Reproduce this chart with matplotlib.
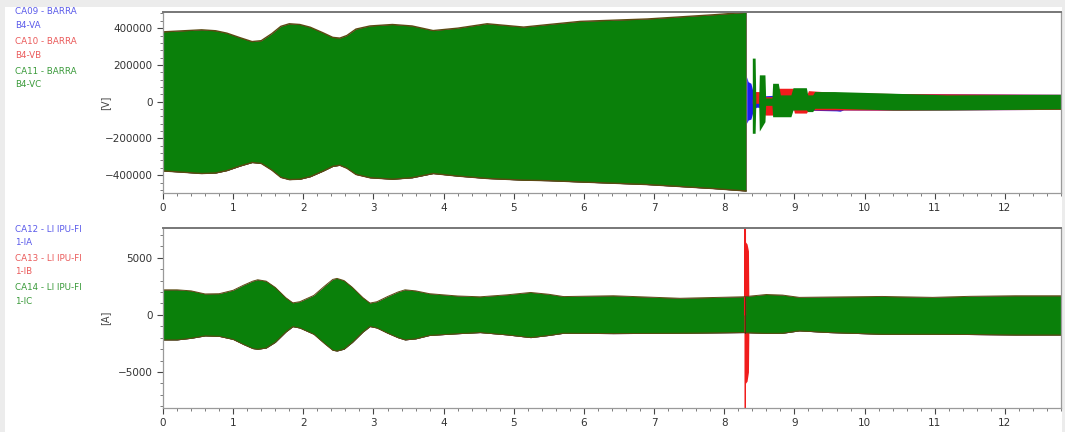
import numpy as np
import matplotlib
matplotlib.use("Agg")
import matplotlib.pyplot as plt
from matplotlib.ticker import AutoMinorLocator, MultipleLocator
from matplotlib.patches import Rectangle

# ---------------- data ----------------
# voltage envelope before the fault [s], [V]
v_t = [0, 0.25, 0.55, 0.75, 0.91, 1.1, 1.27, 1.4, 1.55, 1.68, 1.8, 1.95, 2.1,
       2.28, 2.42, 2.52, 2.62, 2.75, 2.95, 3.27, 3.55, 3.85, 4.2, 4.62, 5.14,
       5.5, 5.95, 6.9, 7.85, 8.31]
v_up = [380e3, 385e3, 391e3, 386e3, 373e3, 348e3, 327e3, 332e3, 370e3, 410e3,
        424e3, 420e3, 405e3, 375e3, 350e3, 346e3, 360e3, 395e3, 412e3, 420e3,
        412e3, 387e3, 400e3, 424e3, 406e3, 420e3, 437e3, 450e3, 473e3, 486e3]
v_lo = [-377e3, -383e3, -391e3, -388e3, -375e3, -350e3, -331e3, -336e3,
        -372e3, -412e3, -424e3, -422e3, -408e3, -378e3, -352e3, -346e3,
        -362e3, -396e3, -414e3, -422e3, -414e3, -391e3, -405e3, -418e3,
        -427e3, -430e3, -437e3, -451e3, -473e3, -486e3]

# voltage after the fault, per phase
va_t = [8.32, 8.34, 8.38, 8.42, 8.46, 9.0, 9.6, 9.65, 9.7, 10.5, 12.8]
va_up = [135e3, 109e3, 100e3, 40e3, 30e3, 40e3, 45e3, 40e3, 42e3, 44e3, 40e3]
va_lo = [-117e3, -100e3, -95e3, -40e3, -30e3, -45e3, -50e3, -52e3, -45e3, -46e3, -42e3]

vb_t = [8.40, 8.42, 8.50, 8.54, 8.58, 8.69, 8.72, 8.78, 8.98, 9.0, 9.17, 9.2,
        9.6, 10.5, 12.8]
vb_up = [10e3, 55e3, 55e3, 20e3, 27e3, 27e3, 40e3, 73e3, 73e3, 30e3, 30e3, 60e3,
         50e3, 44e3, 40e3]
vb_lo = [-10e3, -9e3, -9e3, -40e3, -73e3, -73e3, -40e3, -30e3, -30e3, -62e3,
         -62e3, -45e3, -45e3, -46e3, -42e3]

vc_t = [8.40, 8.41, 8.44, 8.45, 8.49, 8.50, 8.58, 8.59, 8.62, 8.68, 8.69, 8.77,
        8.80, 8.95, 8.98, 9.17, 9.19, 9.26, 9.29, 9.57, 10.4, 11.17, 12.8]
vc_up = [237e3, 237e3, 237e3, 0, 0, 146e3, 146e3, 20e3, 20e3, 20e3, 100e3, 100e3,
         37e3, 37e3, 76e3, 76e3, 37e3, 37e3, 55e3, 55e3, 46e3, 37e3, 40e3]
vc_lo = [-172e3, -172e3, -172e3, 0, 0, -160e3, -109e3, -20e3, -20e3, -20e3,
         -82e3, -82e3, -82e3, -82e3, -45e3, -45e3, -54e3, -54e3, -36e3, -36e3,
         -45e3, -45e3, -40e3]

# current envelope [s], [A]
i_t = [0, 0.2, 0.4, 0.6, 0.8, 1.0, 1.15, 1.28, 1.35, 1.47, 1.6, 1.75, 1.85,
       1.95, 2.15, 2.3, 2.42, 2.48, 2.58, 2.7, 2.85, 2.95, 3.05, 3.2, 3.35,
       3.45, 3.6, 3.8, 4.2, 4.52, 4.9, 5.24, 5.5, 5.71, 6.42, 7.37, 8.27, 8.6,
       8.83, 9.07, 9.5, 10.25, 10.97, 11.5, 12.15, 12.8]
i_up = [2190, 2190, 2100, 1830, 1850, 2150, 2600, 2950, 3070, 2950, 2400, 1500,
        1050, 1150, 1700, 2500, 3100, 3190, 3000, 2400, 1500, 1030, 1150, 1600,
        2000, 2190, 2100, 1850, 1650, 1580, 1750, 1960, 1800, 1600, 1670, 1450,
        1580, 1780, 1730, 1530, 1560, 1610, 1530, 1620, 1670, 1670]
i_lo = [-2190, -2190, -2050, -1840, -1880, -2150, -2600, -2950, -3010, -2900,
        -2400, -1500, -1030, -1150, -1700, -2500, -3100, -3160, -3000, -2400,
        -1500, -1020, -1150, -1600, -2000, -2190, -2100, -1800, -1650, -1550,
        -1750, -1990, -1800, -1610, -1640, -1610, -1550, -1620, -1610, -1400,
        -1550, -1700, -1700, -1720, -1760, -1760]

# fault current spike on phase B
spike_t = [8.296, 8.298, 8.300, 8.302, 8.304]
spike_i = [0, 9500, -9500, 9500, 0]
burst_t = [8.296, 8.30, 8.325, 8.345, 8.35]
burst_up = [6400, 6400, 6200, 5600, 2000]
burst_lo = [-6000, -6000, -5800, -5000, -2000]

top_labels = [("CA09 - BARRA", "B4-VA"), ("CA10 - BARRA", "B4-VB"), ("CA11 - BARRA", "B4-VC")]
bot_labels = [("CA12 - LI IPU-FI", "1-IA"), ("CA13 - LI IPU-FI", "1-IB"), ("CA14 - LI IPU-FI", "1-IC")]

BLUE, RED, GREEN = "#1c1cf0", "#f01c1c", "#0a800a"
EDGE = "#5b4a12"
lab_cols = ["#5a5aea", "#ea5a5a", "#3a9a3a"]

# ---------------- figure ----------------
fig = plt.figure(figsize=(10.65, 4.32), dpi=100, facecolor="#ececec")
fig.patches.append(Rectangle((0.005, 0), 0.992, 0.983, transform=fig.transFigure,
                             facecolor="white", edgecolor="none", zorder=-10))

ax1 = fig.add_axes([163 / 1065, 1 - 193 / 432, 898 / 1065, 181 / 432])
ax2 = fig.add_axes([163 / 1065, 1 - 408 / 432, 898 / 1065, 180 / 432])

# voltage
for c in (BLUE, RED):
    ax1.fill_between(v_t, v_up, v_lo, color=c, lw=0)
ax1.fill_between(va_t, va_up, va_lo, color=BLUE, lw=0)
ax1.fill_between(vb_t, vb_up, vb_lo, color=RED, lw=0)
ax1.fill_between(vc_t, vc_up, vc_lo, color=GREEN, lw=0)
ax1.fill_between(v_t, v_up, v_lo, color=GREEN, lw=0)
ax1.plot(v_t, v_up, color=EDGE, lw=1.0)
ax1.plot(v_t, v_lo, color=EDGE, lw=1.0)

# current
for c in (BLUE, RED):
    ax2.fill_between(i_t, i_up, i_lo, color=c, lw=0)
ax2.fill_between(burst_t, burst_up, burst_lo, color=RED, lw=0)
ax2.plot(spike_t, spike_i, color=RED, lw=0.8)
ax2.fill_between(i_t, i_up, i_lo, color=GREEN, lw=0)
ax2.plot(i_t, i_up, color=EDGE, lw=0.7)
ax2.plot(i_t, i_lo, color=EDGE, lw=0.7)
ax2.plot([8.300, 8.300], [-1600, 1600], color="#4a2a10", lw=0.6)

ax1.set_ylim(-497000, 488000)
ax2.set_ylim(-8150, 7600)
ax1.yaxis.set_major_locator(MultipleLocator(200000))
ax2.yaxis.set_major_locator(MultipleLocator(5000))
ax1.set_ylabel("[V]", fontsize=7, color="#444444")
ax2.set_ylabel("[A]", fontsize=7, color="#444444")

for ax in (ax1, ax2):
    ax.yaxis.set_label_coords(-0.059, 0.5)
    ax.set_xlim(0, 12.8)
    ax.xaxis.set_major_locator(MultipleLocator(1))
    ax.xaxis.set_minor_locator(AutoMinorLocator(5))
    ax.yaxis.set_minor_locator(AutoMinorLocator(5))
    ax.tick_params(which="major", labelsize=7.5, labelcolor="#333333",
                   color="#444444", length=4, width=0.8)
    ax.tick_params(which="minor", color="#666666", length=2.5, width=0.6)
    for s in ax.spines.values():
        s.set_color("#9a9a9a")
        s.set_linewidth(0.9)
    ax.spines["top"].set_color("#777777")
    ax.spines["top"].set_linewidth(1.4)

# channel names on the left
def put_labels(labels, y0):
    for k, (l1, l2) in enumerate(labels):
        y = y0 + k * 29.5
        fig.text(15 / 1065, 1 - y / 432, l1, fontsize=6.3, color=lab_cols[k], va="center")
        fig.text(15 / 1065, 1 - (y + 13.5) / 432, l2, fontsize=6.3, color=lab_cols[k], va="center")

put_labels(top_labels, 12)
put_labels(bot_labels, 229)

fig.savefig("out.png", dpi=100, facecolor=fig.get_facecolor())
